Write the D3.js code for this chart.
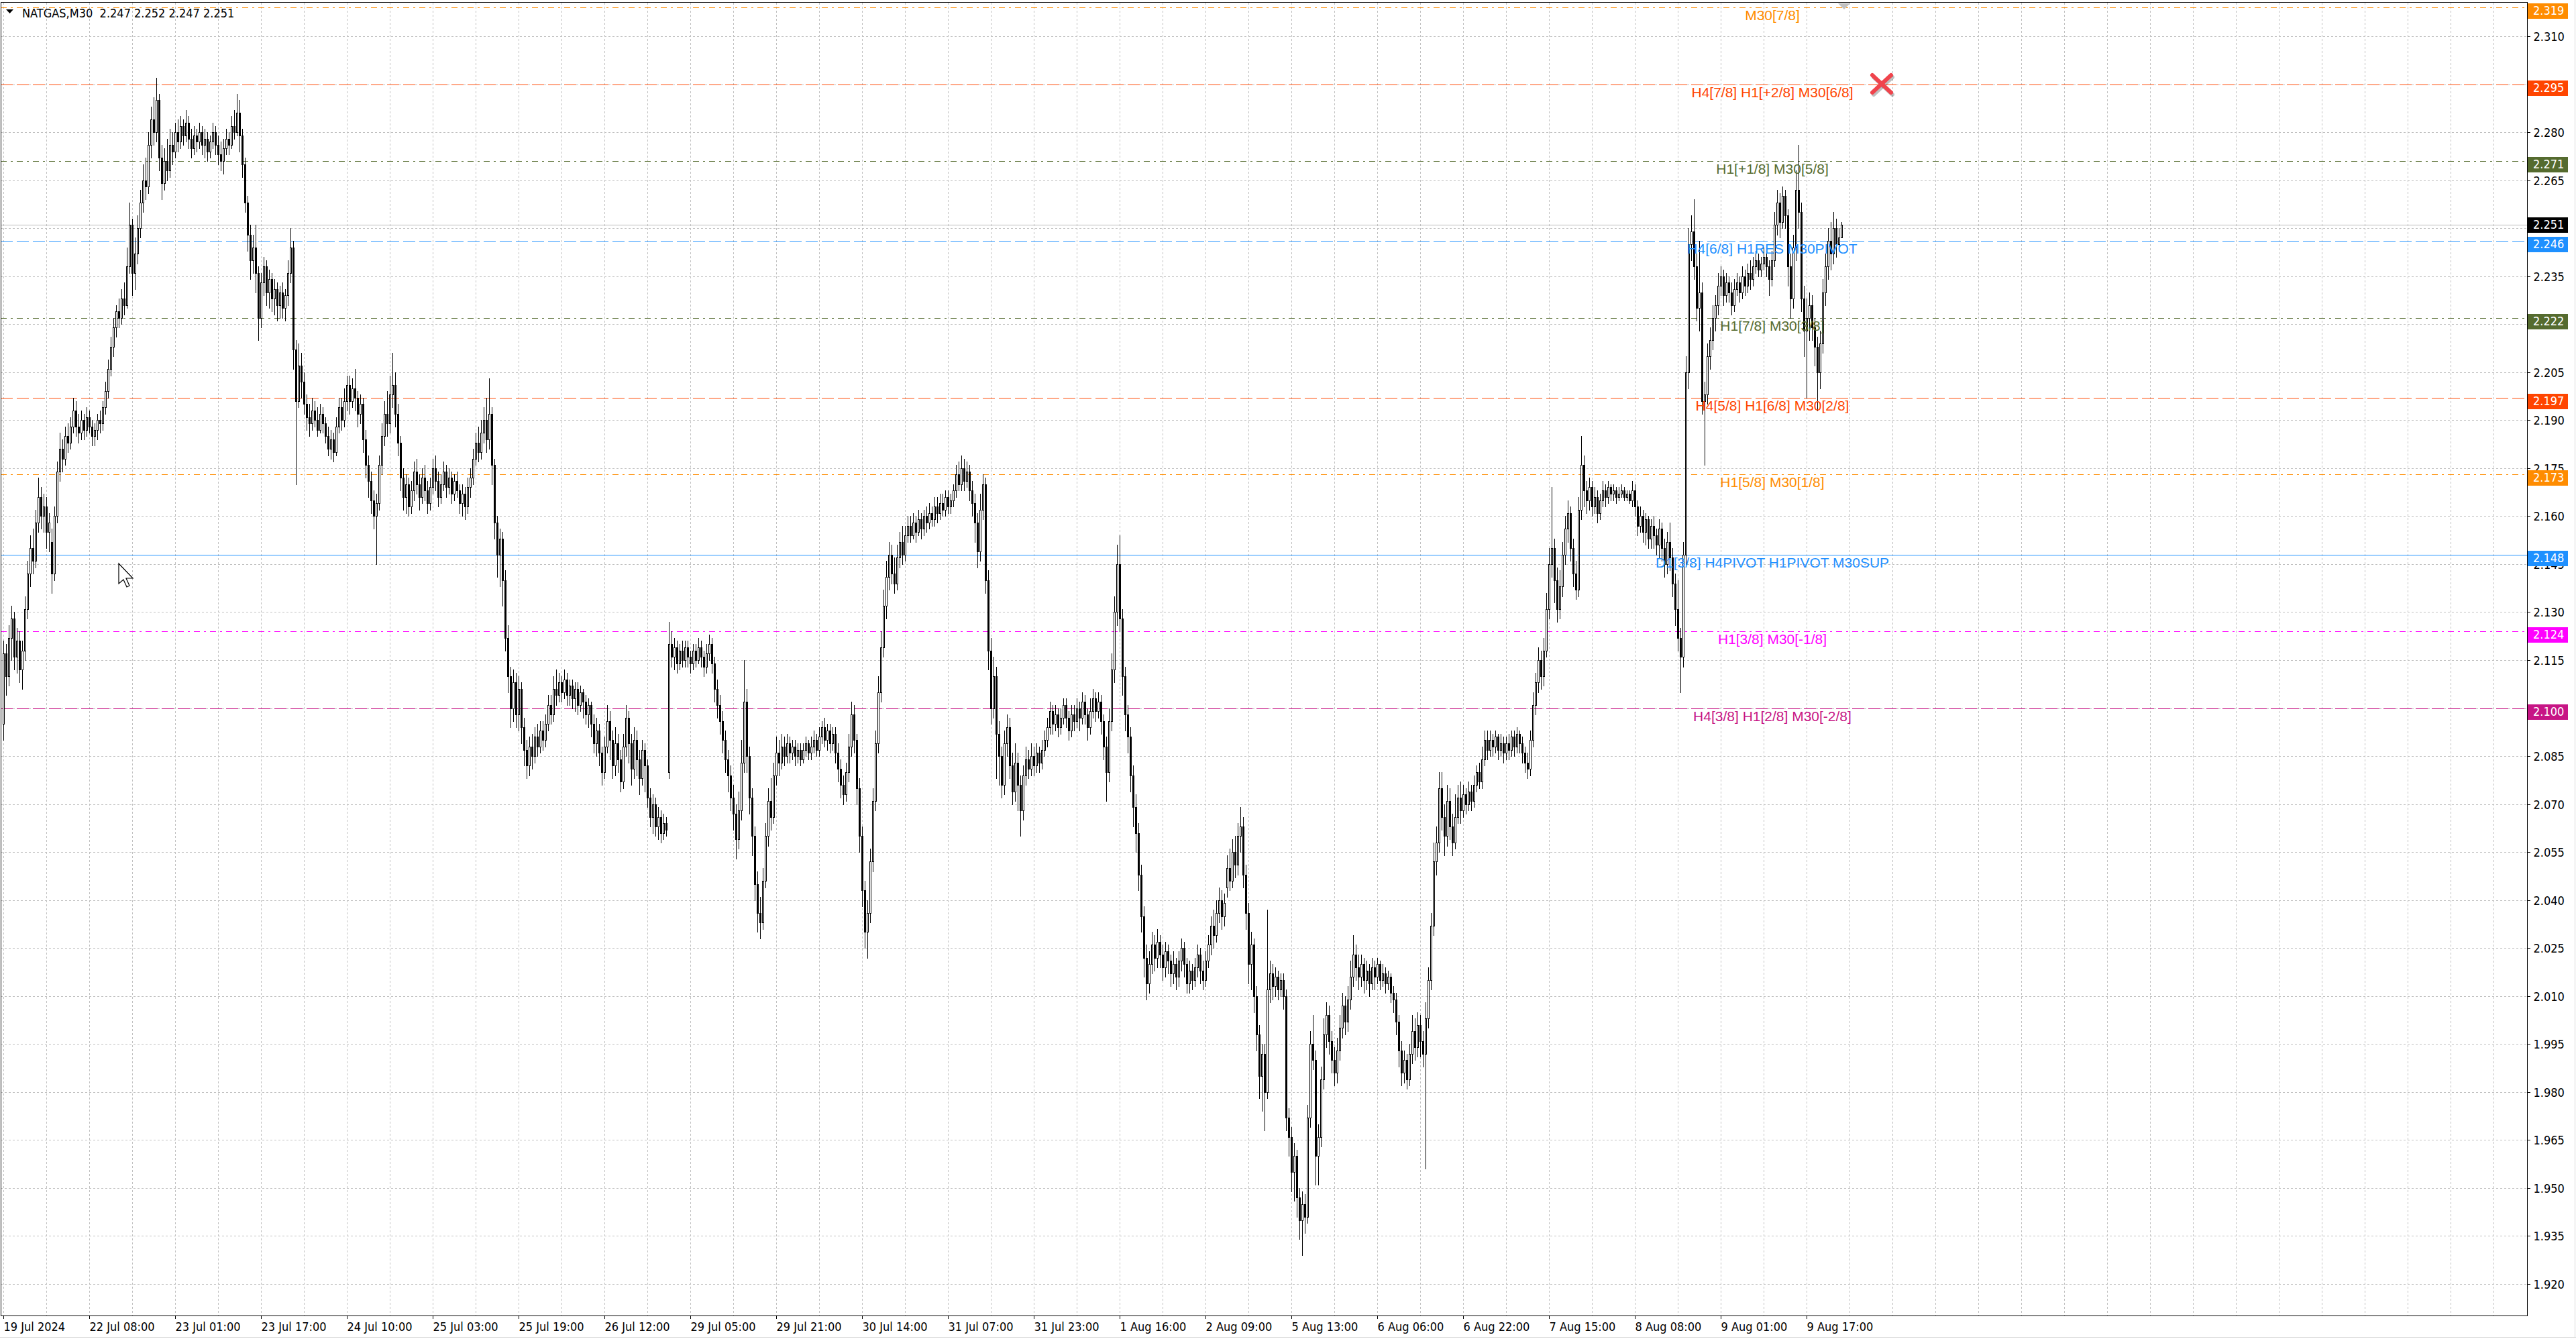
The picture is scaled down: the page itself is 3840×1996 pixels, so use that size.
<!DOCTYPE html>
<html><head><meta charset="utf-8">
<script src="https://cdn.jsdelivr.net/npm/d3@7"></script>
<style>
html,body{margin:0;padding:0;background:#fff;overflow:hidden}
.ax{font-family:"DejaVu Sans Condensed","DejaVu Sans",sans-serif;font-stretch:condensed;font-size:18px;fill:#000}
.lvl{font-family:"Liberation Sans",Arial,sans-serif;font-size:21px}
</style>
</head><body>
<script>
// ---------- DATA (NATGAS, M30) ----------
const opens=[
2.095,2.117,2.110,2.122,2.128,2.116,2.121,2.112,2.118,2.131,
2.142,2.150,2.146,2.158,2.166,2.160,2.163,2.155,2.152,2.142,
2.160,2.174,2.181,2.178,2.185,2.183,2.188,2.193,2.188,2.186,
2.190,2.187,2.191,2.188,2.185,2.187,2.190,2.189,2.194,2.199,
2.206,2.213,2.219,2.224,2.222,2.228,2.226,2.238,2.251,2.236,
2.242,2.250,2.258,2.265,2.263,2.276,2.284,2.280,2.290,2.272,
2.264,2.271,2.268,2.276,2.274,2.280,2.277,2.282,2.279,2.283,
2.278,2.275,2.279,2.277,2.280,2.276,2.278,2.274,2.277,2.280,
2.276,2.273,2.271,2.275,2.278,2.276,2.282,2.280,2.286,2.279,
2.270,2.258,2.248,2.240,2.244,2.236,2.222,2.233,2.238,2.230,
2.234,2.228,2.231,2.226,2.230,2.225,2.229,2.236,2.244,2.212,
2.196,2.207,2.202,2.195,2.191,2.189,2.193,2.190,2.187,2.192,
2.189,2.185,2.181,2.184,2.180,2.188,2.194,2.190,2.196,2.201,
2.196,2.200,2.197,2.192,2.195,2.184,2.176,2.171,2.165,2.160,
2.164,2.176,2.185,2.192,2.189,2.198,2.201,2.192,2.183,2.172,
2.166,2.170,2.163,2.168,2.174,2.170,2.166,2.172,2.168,2.164,
2.169,2.175,2.171,2.166,2.170,2.174,2.169,2.172,2.167,2.171,
2.168,2.164,2.167,2.163,2.169,2.172,2.178,2.183,2.180,2.186,
2.190,2.184,2.192,2.176,2.158,2.148,2.153,2.140,2.122,2.110,
2.100,2.108,2.098,2.106,2.094,2.087,2.082,2.088,2.085,2.091,
2.088,2.093,2.090,2.095,2.101,2.098,2.106,2.104,2.108,2.105,
2.109,2.104,2.107,2.103,2.106,2.101,2.105,2.102,2.098,2.101,
2.095,2.089,2.093,2.086,2.080,2.088,2.096,2.090,2.082,2.089,
2.084,2.077,2.088,2.097,2.089,2.081,2.090,2.084,2.078,2.087,
2.082,2.072,2.066,2.070,2.063,2.066,2.061,2.064,2.080,2.120,
2.116,2.119,2.114,2.118,2.115,2.119,2.116,2.114,2.118,2.115,
2.119,2.116,2.113,2.117,2.120,2.114,2.106,2.101,2.096,2.090,
2.084,2.079,2.072,2.067,2.059,2.068,2.083,2.102,2.085,2.072,
2.060,2.045,2.036,2.033,2.046,2.060,2.071,2.066,2.079,2.086,
2.083,2.088,2.085,2.089,2.086,2.088,2.085,2.087,2.084,2.087,
2.089,2.086,2.088,2.090,2.087,2.091,2.094,2.090,2.093,2.089,
2.092,2.086,2.081,2.076,2.073,2.080,2.088,2.098,2.090,2.075,
2.060,2.043,2.030,2.036,2.052,2.071,2.089,2.105,2.119,2.132,
2.141,2.148,2.142,2.139,2.147,2.152,2.148,2.154,2.157,2.154,
2.158,2.155,2.159,2.156,2.160,2.158,2.161,2.159,2.163,2.161,
2.164,2.162,2.166,2.163,2.165,2.168,2.173,2.170,2.175,2.171,
2.174,2.168,2.164,2.158,2.149,2.162,2.170,2.140,2.118,2.100,
2.110,2.092,2.085,2.076,2.089,2.094,2.082,2.074,2.083,2.076,
2.068,2.079,2.084,2.081,2.085,2.082,2.086,2.083,2.087,2.090,
2.094,2.099,2.095,2.098,2.094,2.097,2.101,2.097,2.093,2.098,
2.096,2.100,2.097,2.102,2.098,2.094,2.099,2.103,2.099,2.102,
2.096,2.088,2.080,2.096,2.112,2.130,2.145,2.128,2.110,2.098,
2.091,2.079,2.069,2.061,2.048,2.035,2.022,2.014,2.020,2.026,
2.022,2.027,2.023,2.019,2.024,2.021,2.017,2.020,2.016,2.021,
2.025,2.020,2.014,2.018,2.015,2.019,2.023,2.018,2.015,2.021,
2.026,2.032,2.029,2.036,2.040,2.035,2.044,2.050,2.046,2.055,
2.051,2.060,2.063,2.048,2.036,2.020,2.026,2.010,1.998,1.985,
1.992,1.980,2.012,2.017,2.013,2.016,2.012,2.015,2.010,1.972,
1.966,1.955,1.960,1.947,1.940,1.945,1.941,1.972,1.995,1.990,
1.960,1.966,1.984,1.998,2.004,1.996,1.990,1.986,1.993,2.000,
2.007,2.002,2.009,2.016,2.023,2.019,2.016,2.020,2.015,2.018,
2.014,2.019,2.016,2.020,2.015,2.017,2.014,2.016,2.011,2.009,
2.002,1.993,1.986,1.990,1.984,1.992,1.999,1.994,2.001,1.996,
1.992,2.003,2.015,2.032,2.052,2.058,2.075,2.066,2.060,2.071,
2.063,2.058,2.066,2.072,2.068,2.073,2.070,2.074,2.071,2.076,
2.080,2.077,2.084,2.090,2.087,2.090,2.088,2.091,2.087,2.089,
2.086,2.089,2.087,2.091,2.088,2.092,2.089,2.086,2.083,2.081,
2.090,2.101,2.108,2.115,2.110,2.118,2.131,2.145,2.150,2.140,
2.131,2.138,2.148,2.156,2.161,2.150,2.142,2.137,2.162,2.176,
2.168,2.165,2.169,2.163,2.166,2.161,2.165,2.168,2.166,2.169,
2.167,2.168,2.166,2.167,2.168,2.166,2.167,2.165,2.168,2.163,
2.157,2.160,2.155,2.159,2.153,2.157,2.154,2.151,2.156,2.150,
2.145,2.152,2.147,2.139,2.131,2.122,2.116,2.148,2.205,2.245,
2.249,2.238,2.225,2.230,2.196,2.198,2.210,2.215,2.222,2.226,
2.232,2.235,2.229,2.233,2.230,2.226,2.231,2.233,2.230,2.235,
2.232,2.236,2.234,2.238,2.240,2.237,2.239,2.241,2.238,2.234,
2.240,2.251,2.258,2.252,2.260,2.254,2.238,2.228,2.244,2.262,
2.255,2.228,2.218,2.222,2.226,2.219,2.213,2.205,2.214,2.230,
2.238,2.246,2.242,2.250,2.245,2.247];
const highs=[
2.121,2.120,2.126,2.132,2.130,2.125,2.124,2.121,2.135,2.146,
2.154,2.156,2.162,2.172,2.169,2.167,2.166,2.161,2.156,2.163,
2.177,2.186,2.184,2.188,2.189,2.191,2.197,2.196,2.192,2.193,
2.192,2.194,2.193,2.190,2.189,2.192,2.193,2.196,2.202,2.209,
2.216,2.222,2.226,2.228,2.231,2.233,2.244,2.258,2.253,2.247,
2.254,2.262,2.270,2.272,2.280,2.288,2.291,2.297,2.292,2.276,
2.275,2.278,2.281,2.280,2.283,2.284,2.285,2.284,2.287,2.285,
2.281,2.282,2.281,2.283,2.282,2.281,2.280,2.279,2.283,2.282,
2.279,2.277,2.278,2.281,2.280,2.285,2.287,2.292,2.290,2.281,
2.272,2.260,2.251,2.248,2.251,2.238,2.236,2.241,2.240,2.237,
2.236,2.234,2.233,2.232,2.233,2.231,2.240,2.250,2.246,2.215,
2.214,2.211,2.205,2.198,2.195,2.197,2.196,2.194,2.195,2.194,
2.191,2.188,2.187,2.186,2.191,2.197,2.197,2.200,2.204,2.204,
2.203,2.206,2.199,2.198,2.197,2.187,2.179,2.174,2.168,2.167,
2.179,2.189,2.196,2.199,2.204,2.211,2.205,2.195,2.185,2.175,
2.173,2.172,2.171,2.177,2.178,2.173,2.175,2.176,2.171,2.172,
2.178,2.179,2.174,2.173,2.177,2.176,2.175,2.174,2.173,2.174,
2.170,2.170,2.169,2.172,2.175,2.181,2.186,2.188,2.190,2.194,
2.197,2.203,2.194,2.178,2.160,2.156,2.155,2.143,2.126,2.113,
2.112,2.111,2.110,2.108,2.097,2.090,2.091,2.092,2.094,2.095,
2.096,2.096,2.098,2.104,2.104,2.110,2.112,2.111,2.110,2.112,
2.111,2.109,2.109,2.108,2.108,2.107,2.106,2.104,2.103,2.102,
2.098,2.097,2.095,2.088,2.091,2.101,2.099,2.093,2.094,2.092,
2.087,2.092,2.101,2.099,2.092,2.094,2.093,2.087,2.090,2.089,
2.084,2.075,2.073,2.072,2.069,2.068,2.067,2.066,2.127,2.124,
2.122,2.121,2.120,2.121,2.121,2.121,2.118,2.120,2.120,2.122,
2.121,2.118,2.120,2.123,2.122,2.116,2.109,2.104,2.099,2.093,
2.087,2.082,2.076,2.070,2.074,2.090,2.115,2.106,2.088,2.075,
2.063,2.049,2.041,2.050,2.064,2.075,2.078,2.083,2.091,2.090,
2.092,2.091,2.092,2.091,2.090,2.090,2.089,2.089,2.089,2.091,
2.090,2.091,2.093,2.092,2.094,2.096,2.097,2.095,2.095,2.094,
2.094,2.089,2.084,2.079,2.083,2.092,2.102,2.101,2.092,2.078,
2.063,2.046,2.040,2.056,2.075,2.093,2.110,2.124,2.137,2.146,
2.152,2.151,2.147,2.151,2.155,2.157,2.157,2.160,2.160,2.161,
2.160,2.162,2.161,2.162,2.163,2.164,2.163,2.166,2.166,2.167,
2.167,2.168,2.168,2.167,2.170,2.176,2.177,2.179,2.178,2.177,
2.176,2.171,2.167,2.161,2.167,2.173,2.172,2.143,2.122,2.116,
2.113,2.096,2.088,2.093,2.098,2.097,2.086,2.089,2.086,2.079,
2.082,2.088,2.087,2.089,2.088,2.089,2.088,2.090,2.093,2.097,
2.102,2.101,2.101,2.100,2.100,2.103,2.103,2.099,2.101,2.101,
2.103,2.102,2.105,2.104,2.100,2.103,2.106,2.105,2.105,2.104,
2.098,2.091,2.100,2.117,2.135,2.151,2.154,2.131,2.113,2.101,
2.094,2.082,2.073,2.064,2.051,2.038,2.026,2.024,2.030,2.029,
2.031,2.029,2.026,2.027,2.026,2.023,2.024,2.022,2.024,2.028,
2.027,2.022,2.021,2.020,2.022,2.026,2.025,2.021,2.024,2.029,
2.035,2.037,2.040,2.044,2.043,2.042,2.054,2.056,2.059,2.060,
2.064,2.069,2.066,2.051,2.039,2.030,2.028,2.013,2.001,1.995,
1.995,2.037,2.021,2.020,2.019,2.018,2.017,2.017,2.012,1.975,
1.969,1.964,1.962,1.950,1.949,1.948,1.976,1.999,2.004,1.993,
1.970,1.988,2.003,2.008,2.007,1.999,1.994,1.997,2.004,2.011,
2.010,2.013,2.021,2.029,2.026,2.023,2.023,2.022,2.021,2.020,
2.022,2.021,2.022,2.021,2.020,2.019,2.018,2.017,2.013,2.011,
2.004,1.996,1.993,1.992,1.995,2.004,2.003,2.005,2.004,1.999,
2.008,2.019,2.036,2.058,2.063,2.080,2.080,2.070,2.076,2.075,
2.067,2.073,2.076,2.077,2.076,2.075,2.077,2.076,2.079,2.082,
2.083,2.088,2.093,2.093,2.093,2.092,2.093,2.092,2.092,2.091,
2.091,2.092,2.093,2.093,2.094,2.093,2.091,2.088,2.086,2.093,
2.105,2.111,2.119,2.118,2.122,2.136,2.150,2.169,2.153,2.144,
2.143,2.152,2.160,2.165,2.163,2.153,2.146,2.166,2.185,2.179,
2.171,2.172,2.171,2.169,2.168,2.167,2.171,2.170,2.171,2.170,
2.170,2.169,2.169,2.170,2.169,2.168,2.168,2.171,2.170,2.165,
2.163,2.162,2.161,2.160,2.159,2.160,2.156,2.159,2.158,2.153,
2.155,2.158,2.150,2.142,2.140,2.125,2.152,2.210,2.250,2.254,
2.259,2.242,2.246,2.233,2.202,2.214,2.219,2.226,2.229,2.236,
2.238,2.237,2.236,2.235,2.233,2.234,2.236,2.235,2.238,2.237,
2.239,2.240,2.241,2.243,2.242,2.241,2.244,2.243,2.240,2.243,
2.255,2.262,2.261,2.263,2.262,2.256,2.242,2.248,2.268,2.276,
2.258,2.232,2.228,2.230,2.229,2.222,2.216,2.218,2.234,2.242,
2.250,2.252,2.255,2.253,2.250,2.252];
const lows=[
2.090,2.104,2.107,2.115,2.112,2.111,2.108,2.106,2.115,2.128,
2.138,2.142,2.144,2.155,2.156,2.155,2.150,2.149,2.136,2.140,
2.158,2.171,2.174,2.176,2.180,2.181,2.186,2.185,2.183,2.184,
2.184,2.185,2.186,2.182,2.182,2.184,2.186,2.187,2.192,2.197,
2.204,2.210,2.216,2.219,2.220,2.223,2.225,2.236,2.229,2.231,
2.239,2.247,2.255,2.259,2.261,2.272,2.276,2.277,2.268,2.259,
2.262,2.265,2.266,2.270,2.272,2.274,2.275,2.276,2.277,2.275,
2.272,2.273,2.274,2.275,2.273,2.272,2.271,2.272,2.275,2.273,
2.270,2.268,2.267,2.273,2.273,2.275,2.278,2.279,2.274,2.266,
2.255,2.243,2.234,2.236,2.230,2.215,2.219,2.229,2.226,2.225,
2.224,2.223,2.221,2.222,2.222,2.221,2.226,2.233,2.206,2.170,
2.194,2.197,2.192,2.187,2.185,2.187,2.188,2.185,2.186,2.186,
2.183,2.179,2.178,2.177,2.179,2.186,2.187,2.188,2.193,2.192,
2.194,2.193,2.188,2.189,2.180,2.172,2.166,2.161,2.156,2.145,
2.162,2.173,2.182,2.185,2.186,2.194,2.188,2.179,2.168,2.162,
2.161,2.160,2.161,2.165,2.167,2.162,2.164,2.165,2.161,2.162,
2.167,2.168,2.163,2.164,2.168,2.166,2.167,2.164,2.165,2.166,
2.161,2.160,2.159,2.161,2.166,2.170,2.176,2.177,2.178,2.183,
2.180,2.181,2.170,2.153,2.141,2.138,2.132,2.118,2.105,2.094,
2.096,2.094,2.093,2.089,2.082,2.078,2.079,2.081,2.083,2.085,
2.086,2.087,2.088,2.093,2.095,2.096,2.101,2.102,2.102,2.103,
2.101,2.101,2.100,2.099,2.098,2.099,2.097,2.095,2.094,2.091,
2.086,2.085,2.082,2.076,2.078,2.086,2.084,2.078,2.079,2.080,
2.074,2.075,2.085,2.083,2.076,2.078,2.079,2.073,2.076,2.074,
2.069,2.063,2.061,2.060,2.059,2.058,2.059,2.060,2.078,2.113,
2.112,2.111,2.112,2.113,2.113,2.113,2.111,2.112,2.113,2.114,
2.113,2.110,2.111,2.115,2.111,2.102,2.097,2.092,2.086,2.080,
2.074,2.068,2.062,2.053,2.056,2.065,2.080,2.080,2.067,2.054,
2.040,2.030,2.028,2.031,2.044,2.057,2.062,2.064,2.076,2.079,
2.081,2.082,2.083,2.083,2.084,2.082,2.083,2.082,2.083,2.085,
2.084,2.084,2.086,2.085,2.085,2.089,2.088,2.087,2.086,2.087,
2.083,2.077,2.072,2.070,2.071,2.077,2.085,2.086,2.070,2.055,
2.038,2.025,2.022,2.033,2.049,2.068,2.086,2.102,2.116,2.128,
2.137,2.139,2.136,2.137,2.144,2.145,2.146,2.152,2.152,2.153,
2.152,2.154,2.153,2.154,2.155,2.156,2.157,2.157,2.158,2.159,
2.160,2.160,2.161,2.161,2.163,2.166,2.168,2.168,2.168,2.169,
2.165,2.160,2.152,2.144,2.146,2.159,2.136,2.112,2.095,2.097,
2.078,2.076,2.072,2.073,2.085,2.078,2.070,2.071,2.068,2.060,
2.065,2.076,2.078,2.079,2.079,2.080,2.080,2.081,2.085,2.088,
2.092,2.092,2.093,2.091,2.092,2.095,2.094,2.090,2.091,2.093,
2.094,2.093,2.095,2.095,2.090,2.092,2.097,2.096,2.097,2.092,
2.084,2.071,2.077,2.093,2.108,2.126,2.124,2.104,2.093,2.086,
2.074,2.063,2.055,2.043,2.030,2.016,2.009,2.011,2.017,2.018,
2.019,2.019,2.015,2.016,2.017,2.013,2.014,2.012,2.013,2.018,
2.016,2.011,2.011,2.012,2.013,2.016,2.014,2.012,2.013,2.019,
2.023,2.025,2.027,2.033,2.031,2.032,2.041,2.043,2.044,2.047,
2.048,2.055,2.044,2.031,2.014,2.012,2.005,1.993,1.978,1.974,
1.968,1.978,2.008,2.009,2.010,2.009,2.010,2.006,1.968,1.960,
1.949,1.946,1.941,1.934,1.929,1.936,1.939,1.969,1.987,1.951,
1.951,1.963,1.981,1.994,1.992,1.986,1.982,1.983,1.990,1.997,
1.998,1.999,2.006,2.013,2.015,2.012,2.013,2.011,2.012,2.010,
2.012,2.012,2.014,2.012,2.013,2.011,2.012,2.008,2.005,1.998,
1.988,1.982,1.983,1.981,1.982,1.989,1.990,1.991,1.991,1.988,
1.956,2.000,2.012,2.029,2.048,2.055,2.062,2.054,2.057,2.059,
2.054,2.056,2.064,2.064,2.066,2.067,2.068,2.068,2.069,2.074,
2.075,2.075,2.082,2.084,2.085,2.085,2.086,2.084,2.085,2.083,
2.084,2.084,2.085,2.085,2.086,2.086,2.083,2.080,2.078,2.079,
2.088,2.098,2.105,2.106,2.107,2.116,2.128,2.141,2.133,2.127,
2.128,2.135,2.145,2.152,2.146,2.138,2.134,2.135,2.159,2.163,
2.161,2.162,2.160,2.161,2.158,2.159,2.163,2.163,2.164,2.165,
2.165,2.164,2.165,2.166,2.165,2.165,2.164,2.163,2.160,2.154,
2.155,2.152,2.151,2.150,2.150,2.150,2.148,2.147,2.146,2.141,
2.142,2.143,2.135,2.126,2.118,2.105,2.113,2.145,2.200,2.240,
2.234,2.221,2.218,2.192,2.176,2.195,2.206,2.212,2.218,2.223,
2.229,2.226,2.227,2.227,2.223,2.224,2.229,2.227,2.228,2.229,
2.230,2.231,2.232,2.236,2.235,2.235,2.237,2.235,2.229,2.232,
2.238,2.248,2.247,2.250,2.250,2.232,2.222,2.225,2.240,2.250,
2.224,2.210,2.197,2.215,2.215,2.207,2.193,2.200,2.211,2.226,
2.234,2.237,2.239,2.241,2.243,2.247];
const closes=[
2.117,2.110,2.122,2.128,2.116,2.121,2.112,2.118,2.131,2.142,
2.150,2.146,2.158,2.166,2.160,2.163,2.155,2.158,2.142,2.160,
2.174,2.181,2.178,2.185,2.183,2.188,2.193,2.188,2.186,2.190,
2.187,2.191,2.188,2.185,2.187,2.190,2.189,2.194,2.199,2.206,
2.213,2.219,2.224,2.222,2.228,2.226,2.238,2.251,2.236,2.242,
2.250,2.258,2.265,2.263,2.276,2.284,2.280,2.290,2.272,2.264,
2.271,2.268,2.276,2.274,2.280,2.277,2.282,2.279,2.283,2.278,
2.275,2.279,2.277,2.280,2.276,2.278,2.274,2.277,2.280,2.276,
2.273,2.271,2.275,2.278,2.276,2.282,2.280,2.286,2.279,2.270,
2.258,2.248,2.240,2.244,2.236,2.222,2.233,2.238,2.230,2.234,
2.228,2.231,2.226,2.230,2.225,2.229,2.236,2.244,2.212,2.196,
2.207,2.202,2.195,2.191,2.189,2.193,2.190,2.187,2.192,2.189,
2.185,2.181,2.184,2.180,2.188,2.194,2.190,2.196,2.201,2.196,
2.200,2.197,2.192,2.195,2.184,2.176,2.171,2.165,2.160,2.164,
2.176,2.185,2.192,2.189,2.198,2.201,2.192,2.183,2.172,2.166,
2.170,2.163,2.168,2.174,2.170,2.166,2.172,2.168,2.164,2.169,
2.175,2.171,2.166,2.170,2.174,2.169,2.172,2.167,2.171,2.168,
2.164,2.167,2.163,2.169,2.172,2.178,2.183,2.180,2.186,2.190,
2.184,2.192,2.176,2.158,2.148,2.153,2.140,2.122,2.110,2.100,
2.108,2.098,2.106,2.094,2.087,2.082,2.088,2.085,2.091,2.088,
2.093,2.090,2.095,2.101,2.098,2.106,2.104,2.108,2.105,2.109,
2.104,2.107,2.103,2.106,2.101,2.105,2.102,2.098,2.101,2.095,
2.089,2.093,2.086,2.080,2.088,2.096,2.090,2.082,2.089,2.084,
2.077,2.088,2.097,2.089,2.081,2.090,2.084,2.078,2.087,2.082,
2.072,2.066,2.070,2.063,2.066,2.061,2.064,2.062,2.120,2.116,
2.119,2.114,2.118,2.115,2.119,2.116,2.114,2.118,2.115,2.119,
2.116,2.113,2.117,2.120,2.114,2.106,2.101,2.096,2.090,2.084,
2.079,2.072,2.067,2.059,2.068,2.083,2.102,2.085,2.072,2.060,
2.045,2.036,2.033,2.046,2.060,2.071,2.066,2.079,2.086,2.083,
2.088,2.085,2.089,2.086,2.088,2.085,2.087,2.084,2.087,2.089,
2.086,2.088,2.090,2.087,2.091,2.094,2.090,2.093,2.089,2.092,
2.086,2.081,2.076,2.073,2.080,2.088,2.098,2.090,2.075,2.060,
2.043,2.030,2.036,2.052,2.071,2.089,2.105,2.119,2.132,2.141,
2.148,2.142,2.139,2.147,2.152,2.148,2.154,2.157,2.154,2.158,
2.155,2.159,2.156,2.160,2.158,2.161,2.159,2.163,2.161,2.164,
2.162,2.166,2.163,2.165,2.168,2.173,2.170,2.175,2.171,2.174,
2.168,2.164,2.158,2.149,2.162,2.170,2.140,2.118,2.100,2.110,
2.092,2.085,2.076,2.089,2.094,2.082,2.074,2.083,2.076,2.068,
2.079,2.084,2.081,2.085,2.082,2.086,2.083,2.087,2.090,2.094,
2.099,2.095,2.098,2.094,2.097,2.101,2.097,2.093,2.098,2.096,
2.100,2.097,2.102,2.098,2.094,2.099,2.103,2.099,2.102,2.096,
2.088,2.080,2.096,2.112,2.130,2.145,2.128,2.110,2.098,2.091,
2.079,2.069,2.061,2.048,2.035,2.022,2.014,2.020,2.026,2.022,
2.027,2.023,2.019,2.024,2.021,2.017,2.020,2.016,2.021,2.025,
2.020,2.014,2.018,2.015,2.019,2.023,2.018,2.015,2.021,2.026,
2.032,2.029,2.036,2.040,2.035,2.039,2.050,2.046,2.055,2.051,
2.060,2.063,2.048,2.036,2.020,2.026,2.010,1.998,1.985,1.992,
1.980,2.012,2.017,2.013,2.016,2.012,2.015,2.010,1.972,1.966,
1.955,1.960,1.947,1.940,1.945,1.941,1.972,1.995,1.990,1.960,
1.966,1.984,1.998,2.004,1.996,1.990,1.986,1.993,2.000,2.007,
2.002,2.009,2.016,2.023,2.019,2.016,2.020,2.015,2.018,2.014,
2.019,2.016,2.020,2.015,2.017,2.014,2.016,2.011,2.009,2.002,
1.993,1.986,1.990,1.984,1.992,1.999,1.994,2.001,1.996,1.992,
2.003,2.015,2.032,2.052,2.058,2.075,2.066,2.060,2.071,2.063,
2.058,2.066,2.072,2.068,2.073,2.070,2.074,2.071,2.076,2.080,
2.077,2.084,2.090,2.087,2.090,2.088,2.091,2.087,2.089,2.086,
2.089,2.087,2.091,2.088,2.092,2.089,2.086,2.083,2.081,2.090,
2.101,2.108,2.115,2.110,2.118,2.131,2.145,2.150,2.140,2.131,
2.138,2.148,2.156,2.161,2.150,2.142,2.137,2.162,2.176,2.168,
2.165,2.169,2.163,2.166,2.161,2.165,2.168,2.166,2.169,2.167,
2.168,2.166,2.167,2.168,2.166,2.167,2.165,2.168,2.163,2.157,
2.160,2.155,2.159,2.153,2.157,2.154,2.151,2.156,2.150,2.145,
2.152,2.147,2.139,2.131,2.122,2.116,2.148,2.205,2.245,2.249,
2.238,2.225,2.230,2.196,2.198,2.210,2.215,2.222,2.226,2.232,
2.235,2.229,2.233,2.230,2.226,2.231,2.233,2.230,2.235,2.232,
2.236,2.234,2.238,2.240,2.237,2.239,2.241,2.238,2.234,2.240,
2.251,2.258,2.252,2.260,2.254,2.238,2.228,2.244,2.262,2.255,
2.228,2.218,2.222,2.226,2.219,2.213,2.205,2.214,2.230,2.238,
2.246,2.242,2.250,2.245,2.247,2.251];

const timeLabels=["19 Jul 2024","22 Jul 08:00","23 Jul 01:00","23 Jul 17:00","24 Jul 10:00",
"25 Jul 03:00","25 Jul 19:00","26 Jul 12:00","29 Jul 05:00","29 Jul 21:00","30 Jul 14:00",
"31 Jul 07:00","31 Jul 23:00","1 Aug 16:00","2 Aug 09:00","5 Aug 13:00","6 Aug 06:00",
"6 Aug 22:00","7 Aug 15:00","8 Aug 08:00","9 Aug 01:00","9 Aug 17:00"];
const timeTickBars=[0,32,64,96,128,160,192,224,256,288,320,352,384,416,448,480,512,544,576,608,640,672];

const priceTicks=[1.920,1.935,1.950,1.965,1.980,1.995,2.010,2.025,2.040,2.055,2.070,2.085,2.100,
2.115,2.130,2.145,2.160,2.175,2.190,2.205,2.220,2.235,2.250,2.265,2.280,2.295,2.310];

const levelPrices=[2.319,2.295,2.271,2.246,2.222,2.197,2.173,2.148,2.124,2.100];
const levelNames=["M30[7/8]","H4[7/8] H1[+2/8] M30[6/8]","H1[+1/8] M30[5/8]","H4[6/8] H1RES M30PIVOT",
"H1[7/8] M30[3/8]","H4[5/8] H1[6/8] M30[2/8]","H1[5/8] M30[1/8]","D1[3/8] H4PIVOT H1PIVOT M30SUP",
"H1[3/8] M30[-1/8]","H4[3/8] H1[2/8] M30[-2/8]"];
const levelColors=["#FF8C00","#FF4500","#556B2F","#1E90FF","#556B2F","#FF4500","#FF8C00","#1E90FF","#FF00FF","#C71585"];
const levelDash=["9,6,3,6","18,6","9,6,3,6","18,6","9,6,3,6","18,6","9,6,3,6",null,"9,6,3,6","18,6"];

const symbolTitle="NATGAS,M30  2.247 2.252 2.247 2.251";
const bidPrice=2.251;

// ---------- DRAWING ----------
const W=3840,H=1996;
const plotL=1,plotR=3767,plotT=4,plotB=1961;
const n=Math.min(opens.length,highs.length,lows.length,closes.length);

const x=d3.scaleLinear().domain([0,940.5]).range([5,3767]);
const y=d3.scaleLinear().domain([1.920,2.310]).range([1914,54]);

const svg=d3.select("body").append("svg").attr("width",W).attr("height",H)
  .style("display","block").attr("shape-rendering","crispEdges");
svg.append("rect").attr("width",W).attr("height",H).attr("fill","#fff");

svg.append("defs").append("clipPath").attr("id","plot")
  .append("rect").attr("x",plotL).attr("y",plotT).attr("width",plotR-plotL).attr("height",plotB-plotT);

const g=svg.append("g").attr("clip-path","url(#plot)");

// grid
const vgrid=d3.range(0,940,16);
g.selectAll("line.vg").data(vgrid).join("line")
  .attr("x1",d=>Math.round(x(d))+0.5).attr("x2",d=>Math.round(x(d))+0.5)
  .attr("y1",plotT).attr("y2",plotB)
  .attr("stroke","#C0C0C0").attr("stroke-width",1).attr("stroke-dasharray","3,3");
g.selectAll("line.hg").data(priceTicks).join("line")
  .attr("x1",plotL).attr("x2",plotR)
  .attr("y1",d=>Math.round(y(d))+0.5).attr("y2",d=>Math.round(y(d))+0.5)
  .attr("stroke","#C0C0C0").attr("stroke-width",1).attr("stroke-dasharray","3,3");

// level lines
g.selectAll("line.lv").data(levelPrices).join("line")
  .attr("x1",plotL).attr("x2",plotR)
  .attr("y1",d=>Math.round(y(d))+0.5).attr("y2",d=>Math.round(y(d))+0.5)
  .attr("stroke",(d,i)=>levelColors[i]).attr("stroke-width",1)
  .attr("stroke-dasharray",(d,i)=>levelDash[i]);

// bid line
g.append("line").attr("x1",plotL).attr("x2",plotR)
  .attr("y1",Math.round(y(bidPrice))+0.5).attr("y2",Math.round(y(bidPrice))+0.5)
  .attr("stroke","#B8B8B8").attr("stroke-width",1);

// candles
const bars=d3.range(n).map(i=>({i,o:opens[i],h:highs[i],l:lows[i],c:closes[i]}));
const cg=g.append("g");
bars.forEach(b=>{
  const cx=Math.round(x(b.i));
  const yH=Math.round(y(b.h)), yL=Math.round(y(b.l));
  const yO=Math.round(y(b.o)), yC=Math.round(y(b.c));
  const top=Math.min(yO,yC), bot=Math.max(yO,yC);
  cg.append("rect").attr("x",cx).attr("y",yH).attr("width",1).attr("height",Math.max(1,yL-yH+1)).attr("fill","#000");
  cg.append("rect").attr("x",cx-1).attr("y",top).attr("width",3).attr("height",Math.max(1,bot-top+1)).attr("fill","#000");
  if(b.c>b.o && bot-top>=2){
    cg.append("rect").attr("x",cx).attr("y",top+1).attr("width",1).attr("height",bot-top-1).attr("fill","#fff");
  }
});

// level text labels
g.selectAll("text.lvl").data(levelPrices).join("text")
  .attr("class","lvl").attr("x",2642).attr("y",d=>y(d)+19)
  .attr("text-anchor","middle").attr("fill",(d,i)=>levelColors[i])
  .attr("shape-rendering","auto")
  .text((d,i)=>levelNames[i]);

// frame
svg.append("rect").attr("x",plotL+0.5).attr("y",plotT-0.5).attr("width",plotR-plotL).attr("height",plotB-plotT+1)
  .attr("fill","none").attr("stroke","#000").attr("stroke-width",1);

// right axis
const ya=svg.append("g").attr("class","ax").attr("transform",`translate(${plotR+0.5},0)`)
  .call(d3.axisRight(y).tickValues(priceTicks).tickSize(4).tickPadding(5).tickFormat(d3.format(".3f")));
ya.select(".domain").remove();
ya.selectAll("text").attr("class","ax").attr("fill","#000").attr("dy","0.36em");
ya.selectAll("line").attr("stroke","#000");

// bottom axis
const xa=svg.append("g").attr("class","ax").attr("transform",`translate(0,${plotB+0.5})`)
  .call(d3.axisBottom(x).tickValues(timeTickBars).tickSize(4).tickFormat((d,i)=>timeLabels[i]));
xa.select(".domain").remove();
xa.selectAll("text").attr("class","ax").attr("fill","#000").attr("text-anchor","start")
  .attr("x",0).attr("y",10).attr("dy","0.71em");
xa.selectAll("line").attr("stroke","#000");

// level price boxes on axis
const boxes=svg.append("g");
levelPrices.forEach((p,i)=>{
  const cy=Math.round(y(p))+5;
  boxes.append("rect").attr("x",plotR+1).attr("y",cy-11.5).attr("width",60).attr("height",23).attr("fill",levelColors[i]);
  boxes.append("text").attr("class","ax").attr("x",plotR+9).attr("y",cy).attr("dy","0.36em")
    .attr("fill","#fff").style("fill","#fff").text(d3.format(".3f")(p));
});
// bid box
{
  const cy=Math.round(y(bidPrice));
  boxes.append("rect").attr("x",plotR+1).attr("y",cy-11.5).attr("width",60).attr("height",23).attr("fill","#000");
  boxes.append("text").attr("class","ax").attr("x",plotR+9).attr("y",cy).attr("dy","0.36em")
    .style("fill","#fff").text(d3.format(".3f")(bidPrice));
}

// title
svg.append("polygon").attr("points","9,14 20,14 14.5,20").attr("fill","#000").attr("shape-rendering","auto");
svg.append("text").attr("class","ax").attr("x",33).attr("y",26).attr("xml:space","preserve")
  .style("white-space","pre").text(symbolTitle);

// top shift marker
svg.append("polygon").attr("points","2740,5 2758,5 2749,14").attr("fill","#C0C0C0").attr("shape-rendering","auto");

// red cross
const xc=svg.append("g").attr("transform","translate(2805,125)").attr("shape-rendering","auto");
[[2,3,"rgba(0,0,0,0.25)"],[0,0,"#F0444C"]].forEach(([dx,dy,col])=>{
  xc.append("line").attr("x1",-14+dx).attr("y1",-13+dy).attr("x2",14+dx).attr("y2",13+dy)
    .attr("stroke",col).attr("stroke-width",6).attr("stroke-linecap","round");
  xc.append("line").attr("x1",14+dx).attr("y1",-13+dy).attr("x2",-14+dx).attr("y2",13+dy)
    .attr("stroke",col).attr("stroke-width",6).attr("stroke-linecap","round");
});

// mouse cursor
svg.append("polygon").attr("transform","translate(177,840)")
  .attr("points","0,0 0,30 7,24 12,35 16,33 11,22 21,22")
  .attr("fill","#fff").attr("stroke","#000").attr("stroke-width",1.2).attr("shape-rendering","auto");

// window border bottom/right
svg.append("line").attr("x1",0).attr("x2",W).attr("y1",1993.5).attr("y2",1993.5).attr("stroke","#D8D8D8");
svg.append("line").attr("x1",3838.5).attr("x2",3838.5).attr("y1",0).attr("y2",1994).attr("stroke","#D8D8D8");
</script>
</body></html>
